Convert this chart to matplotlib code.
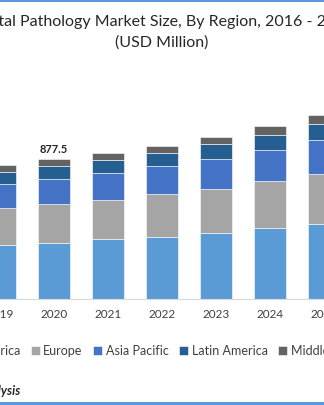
import matplotlib.pyplot as plt
from matplotlib.patches import Rectangle

plt.rcParams['font.family'] = ['Lato', 'DejaVu Sans']

years = ["2019", "2020", "2021", "2022", "2023", "2024", "2025"]
north_america = [340, 355.5, 376, 392, 415, 445, 474]
europe = [230, 244, 248, 266, 278, 296, 313]
asia_pacific = [154, 155, 165, 179, 188, 194, 213]
latin_america = [75, 83, 83, 81, 90, 96, 100]
mea = [42, 40, 46, 46, 48, 54, 54]

regions = ["North America", "Europe", "Asia Pacific", "Latin America",
           "Middle East & Africa"]
colors = ["#5B9BD5", "#A5A5A5", "#4472C4", "#255E91", "#636363"]
series = [north_america, europe, asia_pacific, latin_america, mea]

fig = plt.figure(figsize=(3.24, 4.05), dpi=100)
ax = fig.add_axes([0, 0.261, 1, 0.492])

x = list(range(len(years)))
bottom = [0] * len(years)
handles = []
for vals, col, name in zip(series, colors, regions):
    b = ax.bar(x, vals, width=0.577, bottom=bottom, color=col,
               edgecolor="white", linewidth=0.4, label=name)
    handles.append(b)
    bottom = [bt + v for bt, v in zip(bottom, vals)]

# total label only shown for 2020
i = years.index("2020")
ax.text(x[i], bottom[i] + 25, f"{bottom[i]:.1f}", ha="center", va="bottom",
        fontsize=8, color="#262626", fontweight="bold")

ax.set_xlim(0.081, 5.919)
ax.set_ylim(0, 1249)
ax.set_xticks(x)
ax.set_xticklabels(years, fontsize=8.5, color="#404040")
ax.tick_params(axis="x", length=0, pad=7)
ax.set_yticks([])
for s in ["top", "right", "left"]:
    ax.spines[s].set_visible(False)
ax.spines["bottom"].set_color("#D9D9D9")

fig.text(0.5, 0.945, "Digital Pathology Market Size, By Region, 2016 - 2027",
         ha="center", va="center", fontsize=11.5, color="#262626")
fig.text(0.5, 0.895, "(USD Million)", ha="center", va="center",
         fontsize=11.5, color="#262626")

fig.legend(handles=handles, loc="center left", bbox_to_anchor=(-0.262, 0.133),
           ncol=5, frameon=False, fontsize=9, handlelength=0.7,
           handleheight=0.7, handletextpad=0.3, columnspacing=0.85,
           labelcolor="#404040")

fig.text(0.062, 0.035, "Source: Market Analysis", ha="right", va="center",
         fontsize=9, fontweight="bold", fontstyle="italic", color="#262626")

fig.add_artist(Rectangle((0, 0.996), 1, 0.004, transform=fig.transFigure,
                         color="#5B9BD5", lw=0))
fig.add_artist(Rectangle((0, 0.0), 1, 0.007, transform=fig.transFigure,
                         color="#5B9BD5", lw=0))

fig.savefig("out.png", dpi=100)
